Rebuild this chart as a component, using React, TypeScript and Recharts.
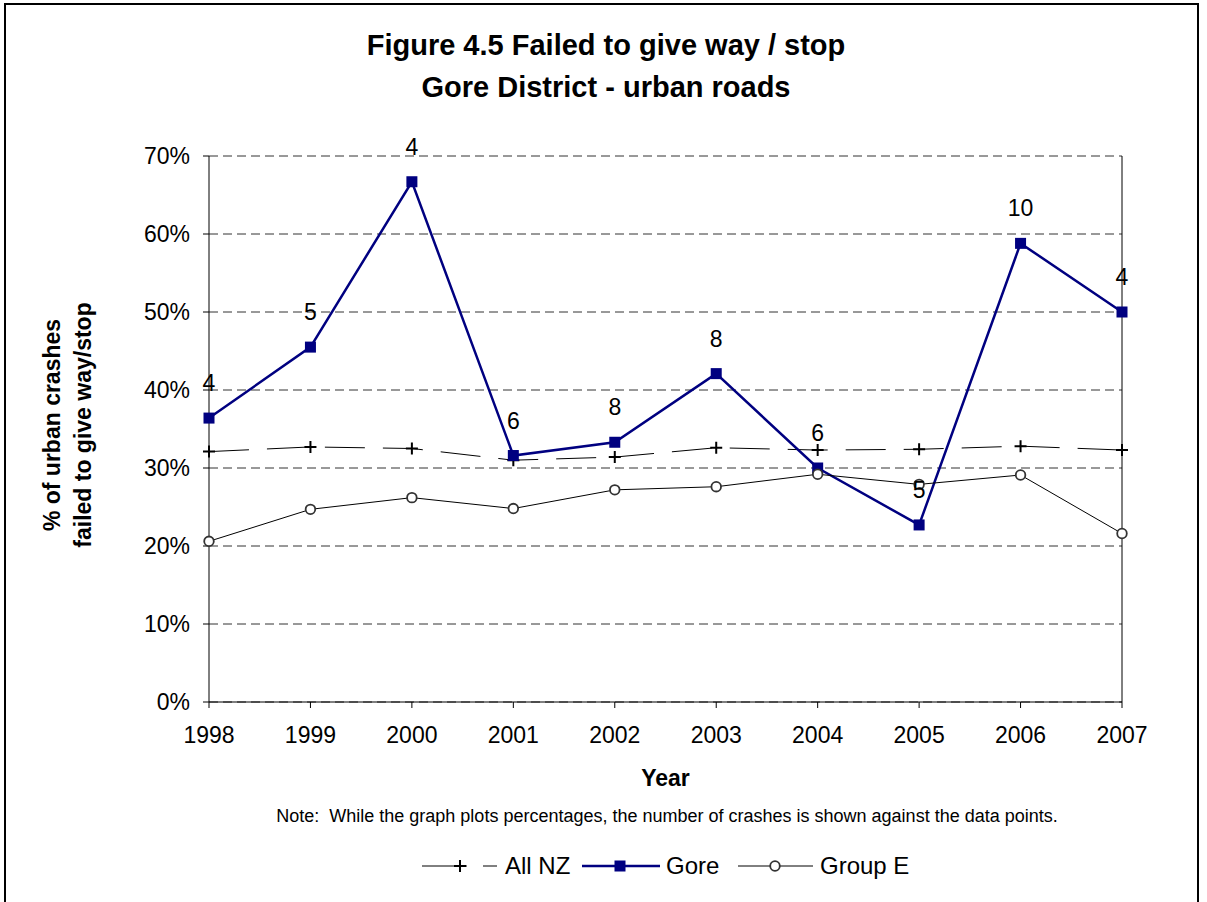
import { LineChart, Line, XAxis, YAxis, CartesianGrid, ReferenceLine, LabelList } from 'recharts';

const years = ['1998', '1999', '2000', '2001', '2002', '2003', '2004', '2005', '2006', '2007'];
const allNZ = [32.1, 32.7, 32.5, 31.0, 31.4, 32.6, 32.3, 32.4, 32.8, 32.3];
const gore = [36.4, 45.5, 66.7, 31.6, 33.3, 42.1, 30.0, 22.7, 58.8, 50.0];
const goreCrashes = [4, 5, 4, 6, 8, 8, 6, 5, 10, 4];
const groupE = [20.6, 24.7, 26.2, 24.8, 27.2, 27.6, 29.2, 27.9, 29.1, 21.6];
const yTicks = [0, 10, 20, 30, 40, 50, 60, 70];

const data = years.map((year, i) => ({
  year,
  allNZ: allNZ[i],
  gore: gore[i],
  goreCrashes: goreCrashes[i],
  groupE: groupE[i],
}));

const FONT = '"Liberation Sans", Arial, Helvetica, sans-serif';
const NAVY = '#000080';

function CrossDot(props: any) {
  const { cx, cy } = props;
  if (cx == null || cy == null) return null;
  return (
    <path
      d={`M${cx - 6},${cy} H${cx + 6} M${cx},${cy - 6} V${cy + 6}`}
      stroke="#000"
      strokeWidth={2}
      fill="none"
    />
  );
}

function SquareDot(props: any) {
  const { cx, cy } = props;
  if (cx == null || cy == null) return null;
  return <rect x={cx - 5.5} y={cy - 5.5} width={11} height={11} fill={NAVY} />;
}

function CircleDot(props: any) {
  const { cx, cy } = props;
  if (cx == null || cy == null) return null;
  return <circle cx={cx} cy={cy} r={4.8} fill="#fff" stroke="#333" strokeWidth={1.8} />;
}

function YAxisTitle() {
  return (
    <g transform="translate(67, 425) rotate(-90)">
      <text textAnchor="middle" y={-7} fontFamily={FONT} fontSize={23} fontWeight="bold" fill="#000">
        % of urban crashes
      </text>
      <text textAnchor="middle" y={24} fontFamily={FONT} fontSize={23} fontWeight="bold" fill="#000">
        failed to give way/stop
      </text>
    </g>
  );
}

function LegendRow() {
  return (
    <svg
      width={1207}
      height={40}
      style={{ position: 'absolute', left: 0, top: 846 }}
    >
      <g>
        <line x1={422} y1={20} x2={497} y2={20} stroke="#000" strokeWidth={1} strokeDasharray="45 16" />
        <CrossDot cx={460} cy={20} />
        <text x={505} y={28} fontFamily={FONT} fontSize={24} fill="#000">All NZ</text>
      </g>
      <g>
        <line x1={582} y1={20} x2={660} y2={20} stroke={NAVY} strokeWidth={2.5} />
        <SquareDot cx={620} cy={20} />
        <text x={666} y={28} fontFamily={FONT} fontSize={24} fill="#000">Gore</text>
      </g>
      <g>
        <line x1={738} y1={20} x2={813} y2={20} stroke="#000" strokeWidth={1} />
        <CircleDot cx={775} cy={20} />
        <text x={820} y={28} fontFamily={FONT} fontSize={24} fill="#000">Group E</text>
      </g>
    </svg>
  );
}

export default function App() {
  return (
    <div
      style={{
        position: 'absolute',
        left: 0,
        top: 0,
        width: 1207,
        height: 902,
        overflow: 'hidden',
        background: '#fff',
        fontFamily: FONT,
      }}
    >
      <div
        style={{
          position: 'absolute',
          left: 4,
          top: 3,
          width: 1195,
          height: 940,
          border: '2px solid #000',
          boxSizing: 'border-box',
        }}
      />
      <div
        style={{
          position: 'absolute',
          left: 0,
          top: 24,
          width: 1212,
          textAlign: 'center',
          fontSize: 29,
          fontWeight: 'bold',
          lineHeight: '42px',
          color: '#000',
        }}
      >
        Figure 4.5 Failed to give way / stop
        <br />
        Gore District - urban roads
      </div>
      <div style={{ position: 'absolute', left: 0, top: 0 }}>
        <LineChart
          width={1207}
          height={902}
          data={data}
          margin={{ top: 156, right: 85, bottom: 140, left: 0 }}
        >
          <CartesianGrid vertical={false} stroke="#333" strokeDasharray="9 5" />
          <XAxis
            dataKey="year"
            height={60}
            stroke="#000"
            tickSize={6}
            tickMargin={19}
            tick={{ fill: '#000', fontSize: 23, fontFamily: FONT }}
            label={{
              value: 'Year',
              position: 'bottom',
              offset: 8,
              fill: '#000',
              fontSize: 23,
              fontWeight: 'bold',
              fontFamily: FONT,
            }}
          />
          <YAxis
            width={209}
            domain={[0, 70]}
            ticks={yTicks}
            stroke="#000"
            tickSize={6}
            tickMargin={13}
            tickFormatter={(v: number) => `${v}%`}
            tick={{ fill: '#000', fontSize: 23, fontFamily: FONT }}
            label={<YAxisTitle />}
          />
          <ReferenceLine x="2007" stroke="#000" strokeWidth={1} />
          <Line
            dataKey="allNZ"
            stroke="#000"
            strokeWidth={1}
            strokeDasharray="40 18"
            dot={<CrossDot />}
            isAnimationActive={false}
          />
          <Line
            dataKey="gore"
            stroke={NAVY}
            strokeWidth={2.5}
            dot={<SquareDot />}
            isAnimationActive={false}
          >
            <LabelList
              dataKey="goreCrashes"
              position="top"
              offset={27}
              fill="#000"
              fontSize={23}
              fontFamily={FONT}
            />
          </Line>
          <Line
            dataKey="groupE"
            stroke="#000"
            strokeWidth={1}
            dot={<CircleDot />}
            isAnimationActive={false}
          />
        </LineChart>
      </div>
      <div
        style={{
          position: 'absolute',
          left: 0,
          top: 806,
          width: 1334,
          textAlign: 'center',
          fontSize: 18,
          color: '#000',
          whiteSpace: 'pre',
        }}
      >
        {'Note:  While the graph plots percentages, the number of crashes is shown against the data points.'}
      </div>
      <LegendRow />
    </div>
  );
}
